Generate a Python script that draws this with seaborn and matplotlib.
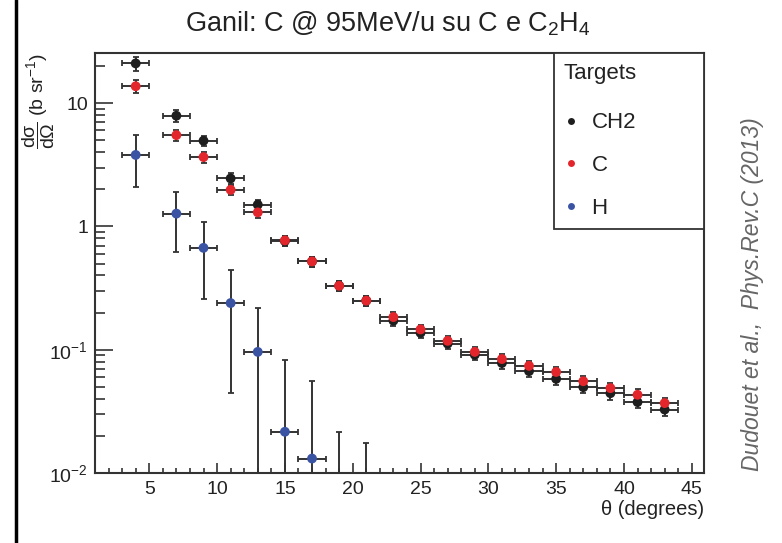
import numpy as np
import pandas as pd
import matplotlib
matplotlib.use("Agg")
import matplotlib.pyplot as plt
import seaborn as sns
from matplotlib.lines import Line2D
from matplotlib.ticker import FixedLocator, FixedFormatter, LogLocator, MultipleLocator, NullFormatter

# ---------------- data ----------------
theta = [4, 7, 9, 11, 13, 15, 17, 19, 21, 23, 25, 27, 29, 31, 33, 35, 37, 39, 41, 43]
theta_halfbin = 1.0

ch2 = [21.0, 7.9, 4.95, 2.45, 1.5, 0.76, 0.52, 0.33, 0.25, 0.172, 0.137, 0.112,
       0.091, 0.078, 0.067, 0.058, 0.0497, 0.0444, 0.0376, 0.0327]
ch2_err = [2.8, 0.85, 0.5, 0.24, 0.14, 0.07, 0.05, 0.03, 0.022, 0.016, 0.013, 0.011,
           0.009, 0.008, 0.007, 0.006, 0.0055, 0.005, 0.0042, 0.0036]

c = [13.7, 5.5, 3.65, 1.98, 1.3, 0.77, 0.52, 0.33, 0.25, 0.184, 0.146, 0.118,
     0.096, 0.084, 0.074, 0.066, 0.0555, 0.0488, 0.0431, 0.0369]
c_err = [1.6, 0.6, 0.36, 0.19, 0.12, 0.07, 0.05, 0.03, 0.022, 0.017, 0.013, 0.011,
         0.009, 0.008, 0.007, 0.0065, 0.0055, 0.005, 0.0045, 0.004]

theta_h = [4, 7, 9, 11, 13, 15, 17, 19, 21]
h = [3.8, 1.27, 0.67, 0.239, 0.096, 0.0216, 0.0131, 0.005, 0.004]
h_hi = [5.5, 1.9, 1.09, 0.44, 0.217, 0.083, 0.0553, 0.0216, 0.0174]
h_lo = [2.1, 0.62, 0.26, 0.0445, 0.001, 0.001, 0.001, 0.001, 0.001]

targets = ["CH2", "C", "H"]
colors = ["#1e1e1e", "#e3262b", "#3b53a3"]

xticks = [5, 10, 15, 20, 25, 30, 35, 40, 45]
yticks = [0.01, 0.1, 1, 10]
ytick_labels = ["$10^{-2}$", "$10^{-1}$", "1", "10"]

title = r"Ganil: C @ 95MeV/u su C e C$_2$H$_4$"
xlabel = "θ (degrees)"
ylabel = r"$\dfrac{d\sigma}{d\Omega}$ (b sr$^{-1}$)"
legend_title = "Targets"
credit = "Dudouet et al.,  Phys.Rev.C (2013)"

# ---------------- style ----------------
sns.set_theme(style="ticks")
plt.rcParams["font.family"] = ["Liberation Sans", "DejaVu Sans"]
plt.rcParams["mathtext.fontset"] = "custom"
plt.rcParams["mathtext.rm"] = "Liberation Sans"
plt.rcParams["mathtext.it"] = "Liberation Sans:italic"
plt.rcParams["mathtext.default"] = "regular"

fig = plt.figure(figsize=(7.82, 5.43), dpi=100)
ax = fig.add_axes([95 / 782, 1 - 473 / 543, 609 / 782, 420 / 543])

df = pd.concat([
    pd.DataFrame({"theta": theta, "value": ch2, "target": "CH2"}),
    pd.DataFrame({"theta": theta, "value": c, "target": "C"}),
    pd.DataFrame({"theta": theta_h, "value": h, "target": "H"}),
], ignore_index=True)

ecol = "#333333"
ekw = dict(fmt="none", ecolor=ecol, elinewidth=1.4, capsize=2.0, capthick=1.3, zorder=2)
ax.errorbar(theta, ch2, xerr=theta_halfbin, yerr=ch2_err, **ekw)
ax.errorbar(theta, c, xerr=theta_halfbin, yerr=c_err, **ekw)
h_arr = np.array(h)
ax.errorbar(theta_h, h, xerr=theta_halfbin,
            yerr=[h_arr - np.array(h_lo), np.array(h_hi) - h_arr], **ekw)

sns.scatterplot(data=df, x="theta", y="value", hue="target", hue_order=targets,
                palette=dict(zip(targets, colors)), s=50, linewidth=0,
                legend=False, ax=ax, zorder=3)

ax.set_yscale("log")
ax.set_xlim(1, 45.9)
ax.set_ylim(0.01, 25.5)

ax.yaxis.set_major_locator(FixedLocator(yticks))
ax.yaxis.set_major_formatter(FixedFormatter(ytick_labels))
ax.yaxis.set_minor_locator(LogLocator(base=10, subs=range(2, 10), numticks=20))
ax.yaxis.set_minor_formatter(NullFormatter())
ax.xaxis.set_major_locator(FixedLocator(xticks))
ax.xaxis.set_minor_locator(MultipleLocator(1))

ax.tick_params(which="both", direction="in", top=False, right=False,
               color=ecol, width=1.2, labelsize=14, labelcolor="#222222")
ax.tick_params(axis="y", which="major", length=13, pad=5)
ax.tick_params(axis="y", which="minor", length=7.2)
ax.tick_params(axis="x", which="major", length=7.2, pad=6)
ax.tick_params(axis="x", which="minor", length=3.6)

for s in ax.spines.values():
    s.set_color(ecol)
    s.set_linewidth(1.5)

ax.set_xlabel(xlabel, loc="right", fontsize=14.5, labelpad=1, color="#222222")
ax.set_ylabel(ylabel, loc="top", fontsize=14, color="#222222")
ax.yaxis.set_label_coords(-0.062, 1.0)

handles = [Line2D([], [], marker="o", linestyle="none", markersize=5,
                  markerfacecolor=col, markeredgewidth=0) for col in colors]
leg = ax.legend(handles, targets, title=legend_title, loc="upper left",
                bbox_to_anchor=(459 / 609, 0, 150 / 609, 1.0), mode="expand",
                fontsize=16, title_fontsize=16, alignment="left",
                fancybox=False, framealpha=1, edgecolor=ecol, borderpad=0.45,
                labelspacing=0.98, handlelength=0.6, handletextpad=0.64,
                borderaxespad=0)
leg._legend_box.sep = 20.5
leg.get_frame().set_linewidth(1.3)
leg.get_title().set_color("#222222")
for t in leg.get_texts():
    t.set_color("#222222")

fig.text(387.5 / 782, 1 - 32 / 543, title, ha="center", va="baseline",
         fontsize=19.5, color="#222222")
fig.text(753 / 782, 1 - 294 / 543, credit, rotation=90, ha="center", va="center",
         style="italic", fontsize=16.5, color="#666666")
fig.add_artist(Line2D([16 / 782, 16 / 782], [0, 1], transform=fig.transFigure,
                      color="black", linewidth=2.5))

fig.savefig("out.png", dpi=100)
